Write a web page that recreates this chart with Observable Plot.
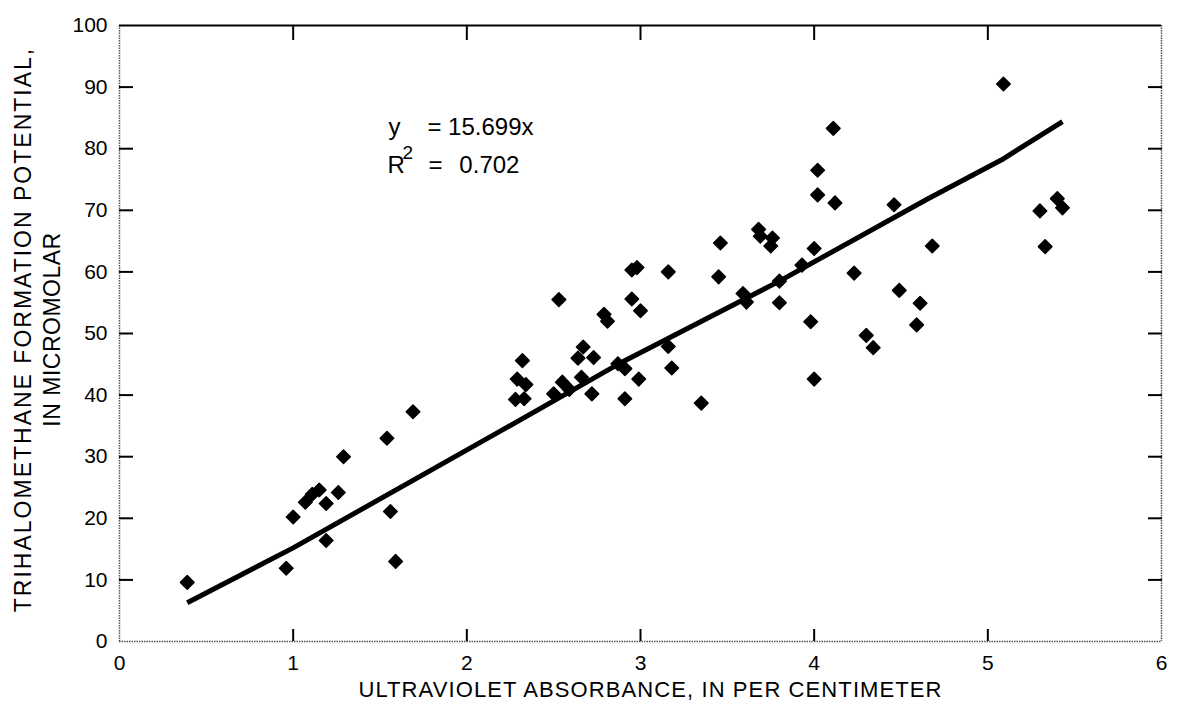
<!DOCTYPE html>
<html><head><meta charset="utf-8">
<script src="https://cdn.jsdelivr.net/npm/d3@7"></script>
<script src="https://cdn.jsdelivr.net/npm/@observablehq/plot@0.6"></script>
<style>body{margin:0;background:#fff}</style>
</head><body><div id="chart"></div>
<script>
// Ultraviolet absorbance (per cm) and trihalomethane formation potential (micromolar)
const absorbance = [0.39,0.96,1.00,1.07,1.11,1.15,1.19,1.19,1.26,1.29,1.54,1.56,1.59,1.69,
  2.28,2.33,2.29,2.34,2.32,2.50,2.53,2.55,2.59,2.64,2.67,2.66,2.72,2.73,2.79,2.81,2.87,2.91,2.91,
  2.95,3.00,2.99,2.95,2.98,3.16,3.16,3.18,3.35,3.45,3.46,3.59,3.61,3.68,3.69,3.76,3.75,3.80,3.80,
  3.93,4.00,3.98,4.00,4.02,4.02,4.12,4.11,4.23,4.30,4.34,4.46,4.49,4.59,4.61,4.68,5.09,5.30,5.33,5.40,5.43];
const thmfp = [9.6,11.9,20.2,22.6,23.9,24.6,22.4,16.4,24.2,30.0,33.0,21.1,13.0,37.3,
  39.3,39.4,42.6,41.7,45.6,40.2,55.5,42.1,40.9,46.0,47.8,42.9,40.2,46.1,53.1,52.0,45.1,44.3,39.4,
  55.6,53.7,42.6,60.3,60.7,60.0,47.9,44.4,38.7,59.2,64.7,56.5,55.1,66.9,65.8,65.5,64.2,58.5,55.0,
  61.1,63.8,51.9,42.6,76.5,72.5,71.2,83.3,59.8,49.7,47.7,70.9,57.0,51.4,54.9,64.2,90.5,69.9,64.1,71.9,70.4];
// Fitted line y = 15.699x as traced on the figure
const fitX = [0.39, 1.00, 2.19, 2.87, 3.80, 4.65, 5.08, 5.43];
const fitY = [6.3, 15.2, 34.1, 45.0, 58.5, 71.8, 78.2, 84.4];
const xTickLabels = [0, 1, 2, 3, 4, 5, 6];
const yTickLabels = [0, 10, 20, 30, 40, 50, 60, 70, 80, 90, 100];
const xTitle = "ULTRAVIOLET ABSORBANCE, IN PER CENTIMETER";
const yTitle = ["TRIHALOMETHANE FORMATION POTENTIAL,", "IN MICROMOLAR"];
const equation = "= 15.699x";
const rSquared = "0.702";

const points = absorbance.map((x, i) => ({x, y: thmfp[i]}));
const fit = fitX.map((x, i) => ({x, y: fitY[i]}));
const inner = t => t.slice(1, -1);
const font = "'Liberation Sans', Arial, Helvetica, sans-serif";
const tickStyle = {stroke: "#000", strokeWidth: 2, tickFormat: () => "", label: null};
const dotted = {stroke: "#555", strokeWidth: 1.5, strokeDasharray: "1.5,1"};
const intFormat = d3.format("d");

const chart = Plot.plot({
  width: 1177, height: 715,
  marginLeft: 119, marginRight: 16, marginTop: 25, marginBottom: 74,
  style: {fontFamily: font, fontSize: "21px", color: "#000", background: "#fff"},
  x: {domain: [0, 6]},
  y: {domain: [0, 100]},
  marks: [
    Plot.ruleX([0, 6], dotted),
    Plot.ruleY([0], dotted),
    Plot.ruleY([100], {stroke: "#000", strokeWidth: 2}),
    Plot.axisY({ticks: inner(yTickLabels), anchor: "left", tickSize: -14, ...tickStyle}),
    Plot.axisY({ticks: inner(yTickLabels), anchor: "right", tickSize: -14, ...tickStyle}),
    Plot.axisX({ticks: inner(xTickLabels), anchor: "bottom", tickSize: -12, ...tickStyle}),
    Plot.axisX({ticks: inner(xTickLabels), anchor: "top", tickSize: -14, ...tickStyle}),
    Plot.axisY({ticks: yTickLabels, anchor: "left", tickSize: 0, tickPadding: 12, label: null, fontSize: 21, tickFormat: intFormat}),
    Plot.axisX({ticks: xTickLabels, anchor: "bottom", tickSize: 0, tickPadding: 14, label: null, fontSize: 21, tickFormat: intFormat}),
    Plot.line(fit, {x: "x", y: "y", stroke: "#000", strokeWidth: 5, strokeLinecap: "butt"}),
    Plot.dot(points, {x: "x", y: "y", symbol: "diamond2", r: 6.1, fill: "#000", stroke: "#000", strokeWidth: 1.5, strokeLinejoin: "round"}),
    Plot.text([xTitle], {text: d => d, frameAnchor: "bottom", dx: 10, dy: 48, lineAnchor: "middle", textAnchor: "middle", fontSize: 22}),
    Plot.text([yTitle.join("\n")], {text: d => d, frameAnchor: "left", rotate: -90, dx: -83, dy: -4, lineAnchor: "middle", textAnchor: "middle", lineHeight: 1.25, fontSize: 23}),
    // regression annotation
    Plot.text(["y"], {text: d => d, x: 1.549, y: 82.3, textAnchor: "start", lineAnchor: "bottom", fontSize: 24}),
    Plot.text([equation], {text: d => d, x: 1.773, y: 82.3, textAnchor: "start", lineAnchor: "bottom", fontSize: 24}),
    Plot.text(["R"], {text: d => d, x: 1.543, y: 76.1, textAnchor: "start", lineAnchor: "bottom", fontSize: 24}),
    Plot.text(["2"], {text: d => d, x: 1.630, y: 78.4, textAnchor: "start", lineAnchor: "bottom", fontSize: 19}),
    Plot.text(["="], {text: d => d, x: 1.779, y: 76.1, textAnchor: "start", lineAnchor: "bottom", fontSize: 24}),
    Plot.text([rSquared], {text: d => d, x: 1.957, y: 76.1, textAnchor: "start", lineAnchor: "bottom", fontSize: 24})
  ]
});
// letter spacing for the titles (applied to the rendered text / tspans)
const spacing = new Map([[xTitle, 1.1], [yTitle[0], 2], [yTitle[1], 0.5]]);
chart.querySelectorAll("text, tspan").forEach(t => {
  if (t.children.length === 0 && spacing.has(t.textContent)) t.setAttribute("letter-spacing", spacing.get(t.textContent));
});
document.getElementById("chart").append(chart);
</script>
</body></html>
